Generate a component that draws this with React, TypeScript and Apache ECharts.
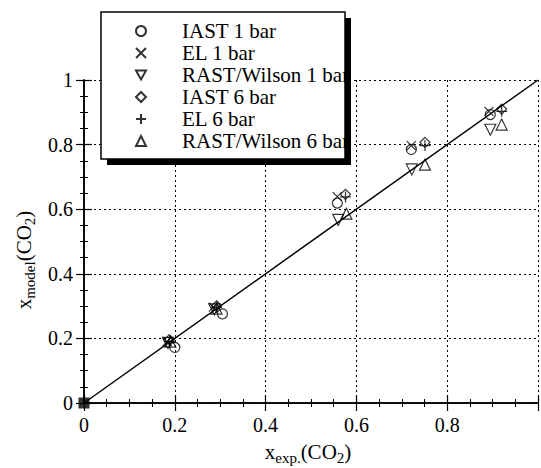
import React, { useEffect, useRef } from 'react';
import * as echarts from 'echarts';

// Legend names (series)
const seriesNames = ['IAST 1 bar', 'EL 1 bar', 'RAST/Wilson 1 bar', 'IAST 6 bar', 'EL 6 bar', 'RAST/Wilson 6 bar'];

// [x_exp, x_model] pairs
const iast1 = [[0.2, 0.172], [0.305, 0.276], [0.558, 0.619], [0.721, 0.785], [0.895, 0.893]];
const el1 = [[0.183, 0.19], [0.285, 0.297], [0.558, 0.639], [0.721, 0.797], [0.892, 0.903]];
const rast1 = [[0.185, 0.186], [0.287, 0.29], [0.56, 0.567], [0.722, 0.723], [0.895, 0.846]];
const iast6 = [[0.188, 0.196], [0.292, 0.301], [0.576, 0.646], [0.751, 0.807], [0.92, 0.91]];
const el6 = [[0.188, 0.19], [0.292, 0.296], [0.576, 0.638], [0.751, 0.797], [0.92, 0.903]];
const rast6 = [[0.19, 0.19], [0.292, 0.292], [0.578, 0.586], [0.751, 0.738], [0.92, 0.862]];

// parity line and origin point
const parityLine = [[0, 0], [1, 1]];
const originPoint = [[0, 0]];

// axis ranges
const axisMin = 0;
const axisMax = 1;
const axisStep = 0.2;

const FONT = 'Liberation Serif';

export default function App() {
  const ref = useRef<HTMLDivElement>(null);

  useEffect(() => {
    if (!ref.current) return;
    const chart = echarts.init(ref.current, null, { renderer: 'svg' });

    const hollow = { color: 'rgba(0,0,0,0)', borderColor: '#000', borderWidth: 1.2 };
    const symbols: Array<[string, number]> = [
      ['circle', 10],
      ['path://M0,0L10,10M10,0L0,10', 9],
      ['path://M0,0L10,0L5,9Z', 11],
      ['diamond', 10],
      ['path://M5,0L5,10M0,5L10,5', 11],
      ['triangle', 11],
    ];
    const datasets = [iast1, el1, rast1, iast6, el6, rast6];

    const scatter = datasets.map((d, i) => ({
      name: seriesNames[i],
      type: 'scatter',
      data: d,
      symbol: symbols[i][0],
      symbolSize: symbols[i][1],
      itemStyle: hollow,
      z: 3,
    }));

    const axisCommon = {
      type: 'value',
      min: axisMin,
      max: axisMax,
      interval: axisStep,
      axisLine: { show: true, lineStyle: { color: '#000', width: 1.5 } },
      axisTick: { show: true, inside: true, length: 8, lineStyle: { color: '#000', width: 1.2 } },
      minorTick: { show: true, splitNumber: 4, length: 4, lineStyle: { color: '#000', width: 1 } },
    };

    const option: any = {
      animation: false,
      backgroundColor: '#fff',
      textStyle: { fontFamily: FONT, color: '#000' },
      grid: { left: 84, top: 80, width: 456, height: 323 },
      xAxis: [
        {
          ...axisCommon,
          position: 'bottom',
          splitLine: { show: true, lineStyle: { color: '#000', type: [2, 3], width: 1 } },
          axisLabel: {
            color: '#000',
            fontFamily: FONT,
            fontSize: 20,
            margin: 12,
            formatter: (v: number) => (v === 1 ? '' : String(v)),
          },
        },
        {
          ...axisCommon,
          position: 'top',
          splitLine: { show: false },
          axisLabel: { show: false },
        },
      ],
      yAxis: [
        {
          ...axisCommon,
          position: 'left',
          splitLine: { show: true, lineStyle: { color: '#000', type: [2, 3], width: 1 } },
          axisLabel: { color: '#000', fontFamily: FONT, fontSize: 20, margin: 11 },
        },
        {
          ...axisCommon,
          position: 'right',
          splitLine: { show: false },
          axisLabel: { show: false },
        },
      ],
      legend: {
        data: seriesNames,
        orient: 'vertical',
        left: 130,
        top: 15,
        itemWidth: 10,
        itemHeight: 10,
        itemGap: 0,
        selectedMode: false,
        z: 10,
        textStyle: {
          color: '#000',
          fontFamily: FONT,
          fontSize: 21,
          lineHeight: 22,
          padding: [0, 0, 0, 31],
        },
      },
      graphic: [
        { type: 'rect', z: 5, shape: { x: 101, y: 12, width: 244, height: 147 }, style: { fill: '#fff' } },
        { type: 'rect', z: 20, shape: { x: 101, y: 12, width: 244, height: 147 }, style: { fill: 'none', stroke: '#000', lineWidth: 1.5 } },
        { type: 'rect', z: 20, shape: { x: 345, y: 18, width: 6, height: 147 }, style: { fill: '#000' } },
        { type: 'rect', z: 20, shape: { x: 107, y: 159, width: 244, height: 6 }, style: { fill: '#000' } },
        {
          type: 'text',
          x: 308,
          y: 452,
          z: 20,
          style: {
            text: '{m|x}{s|exp.}{m|(CO}{s|2}{m|)}',
            align: 'center',
            verticalAlign: 'middle',
            fill: '#000',
            rich: {
              m: { fontFamily: FONT, fontSize: 21, lineHeight: 21, fill: '#000' },
              s: { fontFamily: FONT, fontSize: 15, lineHeight: 15, padding: [12, 0, 0, 0], fill: '#000' },
            },
          },
        },
        {
          type: 'text',
          x: 24,
          y: 260,
          z: 20,
          rotation: Math.PI / 2,
          style: {
            text: '{m|x}{s|model}{m|(CO}{s|2}{m|)}',
            align: 'center',
            verticalAlign: 'middle',
            fill: '#000',
            rich: {
              m: { fontFamily: FONT, fontSize: 21, lineHeight: 21, fill: '#000' },
              s: { fontFamily: FONT, fontSize: 15, lineHeight: 15, padding: [12, 0, 0, 0], fill: '#000' },
            },
          },
        },
      ],
      series: [
        {
          name: 'parity',
          type: 'line',
          data: parityLine,
          symbol: 'none',
          lineStyle: { color: '#000', width: 1.5 },
          silent: true,
          z: 2,
        },
        ...scatter,
        {
          name: 'origin',
          type: 'scatter',
          data: originPoint,
          symbol: 'rect',
          symbolSize: 11,
          itemStyle: { color: '#000' },
          z: 4,
        },
      ],
    };

    chart.setOption(option);
    return () => chart.dispose();
  }, []);

  return (
    <div
      ref={ref}
      style={{ position: 'fixed', left: 0, top: 0, width: 541, height: 468, background: '#fff' }}
    />
  );
}
